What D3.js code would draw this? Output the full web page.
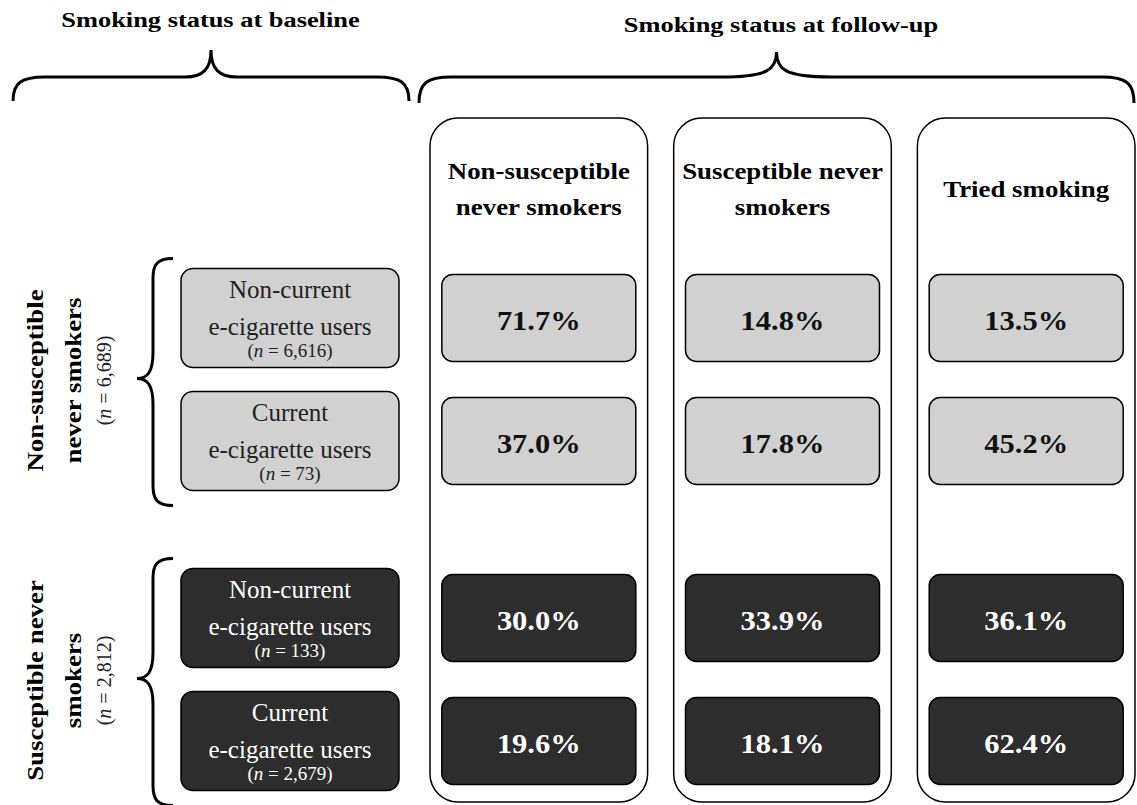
<!DOCTYPE html>
<html>
<head>
<meta charset="utf-8">
<script src="https://cdn.jsdelivr.net/npm/d3@7"></script>
<style>
	body { margin: 0; background: #fff; }
	svg { display: block; font-family: "Liberation Serif", "Times New Roman", serif; }
</style>
</head>
<body>
<div id="chart"></div>
<script>
'use strict';

// data
var followUp = ['Non-susceptible never smokers', 'Susceptible never smokers', 'Tried smoking'];
var followUpLines = [['Non-susceptible', 'never smokers'], ['Susceptible never', 'smokers'], ['Tried smoking']];
var groups = ['Non-susceptible never smokers', 'Susceptible never smokers'];
var groupLines = [['Non-susceptible', 'never smokers'], ['Susceptible never', 'smokers']];
var groupN = ['6,689', '2,812'];
var useStatus = ['Non-current', 'Current'];
var rowN = [['6,616', '73'], ['133', '2,679']];
var pct = [
	[[71.7, 14.8, 13.5], [37.0, 17.8, 45.2]],
	[[30.0, 33.9, 36.1], [19.6, 18.1, 62.4]]
];

var W = 1137, H = 805;
var svg = d3.select('#chart').append('svg')
	.attr('width', W)
	.attr('height', H);

// scales
var x = d3.scaleBand().domain(followUp).range([430, 1135]).paddingInner(0.107);
var yGroup = d3.scaleBand().domain(groups).range([256.5, 856.5]);
var yRow = d3.scaleBand().domain(useStatus).range([0, 246]);

var rowCenter = function(g, r){
	return yGroup(groups[g]) + yRow(useStatus[r]) + yRow.bandwidth() / 2;
};

var fills = ['#d1d1d1', '#2d2d2d'];
var textFill = ['#111', '#fff'];

// bold face in the original is wider than Liberation Serif bold
var stretched = function(parent, cx, cy, sx, size, bold){
	return parent.append('g')
		.attr('transform', 'translate(' + cx + ',' + cy + ') scale(' + sx + ',1)')
		.append('text')
		.attr('text-anchor', 'middle')
		.style('font-weight', bold ? 'bold' : 'normal')
		.style('font-size', size + 'px');
};

// horizontal brace opening downward
var hBrace = function(x1, x2, yt, yb, tw){
	var xm = (x1 + x2) / 2, ym = 77, r = 32;
	return 'M' + x1 + ',' + yb +
		'C' + x1 + ',' + (ym + 6) + ' ' + (x1 + 8) + ',' + ym + ' ' + (x1 + r) + ',' + ym +
		'L' + (xm - tw) + ',' + ym +
		'C' + (xm - 8) + ',' + ym + ' ' + xm + ',' + (ym - 8) + ' ' + xm + ',' + yt +
		'C' + xm + ',' + (ym - 8) + ' ' + (xm + 8) + ',' + ym + ' ' + (xm + tw) + ',' + ym +
		'L' + (x2 - r) + ',' + ym +
		'C' + (x2 - 8) + ',' + ym + ' ' + x2 + ',' + (ym + 6) + ' ' + x2 + ',' + yb;
};

// vertical brace opening right
var vBrace = function(y1, y2, ym, xt, xe){
	var xm = 153, r = 20, tw = 26;
	return 'M' + xe + ',' + y1 +
		'C' + (xm + 4) + ',' + y1 + ' ' + xm + ',' + (y1 + 6) + ' ' + xm + ',' + (y1 + r) +
		'L' + xm + ',' + (ym - tw) +
		'C' + xm + ',' + (ym - 6) + ' ' + (xm - 6) + ',' + ym + ' ' + xt + ',' + ym +
		'C' + (xm - 6) + ',' + ym + ' ' + xm + ',' + (ym + 6) + ' ' + xm + ',' + (ym + tw) +
		'L' + xm + ',' + (y2 - r) +
		'C' + xm + ',' + (y2 - 6) + ' ' + (xm + 4) + ',' + y2 + ' ' + xe + ',' + y2;
};

// top titles
stretched(svg, 210.5, 27, 1.2, 22, true).text('Smoking status at baseline');
stretched(svg, 781, 32, 1.2, 22, true).text('Smoking status at follow-up');

// top braces
svg.append('path')
	.attr('d', hBrace(13, 409, 50, 101, 26))
	.attr('fill', 'none').attr('stroke', '#000').attr('stroke-width', 3);
svg.append('path')
	.attr('d', hBrace(419, 1134, 52, 103, 55))
	.attr('fill', 'none').attr('stroke', '#000').attr('stroke-width', 3);

// follow-up columns
var cols = svg.selectAll('g.col')
	.data(followUp)
	.enter()
	.append('g')
	.attr('class', 'col');

cols.append('rect')
	.attr('x', function(d){ return x(d); })
	.attr('y', 118)
	.attr('width', x.bandwidth())
	.attr('height', 684)
	.attr('rx', 28)
	.attr('fill', 'none')
	.attr('stroke', '#000')
	.attr('stroke-width', 1.5);

cols.each(function(d, i){
	var lines = followUpLines[i];
	var el = d3.select(this);
	lines.forEach(function(l, j){
		stretched(el, x(d) + x.bandwidth() / 2, 197 + (j - (lines.length - 1) / 2) * 36, 1.12, 24, true)
			.text(l);
	});
});

// percent cells
var cells = [];
pct.forEach(function(grp, g){
	grp.forEach(function(row, r){
		row.forEach(function(v, c){
			cells.push({g: g, r: r, c: c, v: v});
		});
	});
});

var cellW = 194, cellH = 87;
var cell = svg.selectAll('g.cell')
	.data(cells)
	.enter()
	.append('g')
	.attr('class', 'cell');

cell.append('rect')
	.attr('x', function(d){ return x(followUp[d.c]) + (x.bandwidth() - cellW) / 2; })
	.attr('y', function(d){ return rowCenter(d.g, d.r) - cellH / 2; })
	.attr('width', cellW)
	.attr('height', cellH)
	.attr('rx', 11)
	.attr('fill', function(d){ return fills[d.g]; })
	.attr('stroke', '#000')
	.attr('stroke-width', 1.5);

cell.each(function(d){
	stretched(d3.select(this), x(followUp[d.c]) + x.bandwidth() / 2, rowCenter(d.g, d.r) + 11.5, 1.13, 27, true)
		.attr('fill', textFill[d.g])
		.text(d.v.toFixed(1) + '%');
});

// baseline boxes
var base = [];
groups.forEach(function(gName, g){
	useStatus.forEach(function(u, r){
		base.push({g: g, r: r, label: u, n: rowN[g][r]});
	});
});

var boxX = 181, boxW = 218, boxH = 99;
var bg = svg.selectAll('g.base')
	.data(base)
	.enter()
	.append('g')
	.attr('class', 'base');

bg.append('rect')
	.attr('x', boxX)
	.attr('y', function(d){ return rowCenter(d.g, d.r) - boxH / 2; })
	.attr('width', boxW)
	.attr('height', boxH)
	.attr('rx', 12)
	.attr('fill', function(d){ return fills[d.g]; })
	.attr('stroke', '#000')
	.attr('stroke-width', 1.5);

bg.each(function(d){
	var cy = rowCenter(d.g, d.r);
	var el = d3.select(this);
	var col = d.g === 1 ? '#fff' : '#222';
	el.append('text')
		.attr('x', boxX + boxW / 2).attr('y', cy - 20)
		.attr('text-anchor', 'middle')
		.style('font-size', '25px').attr('fill', col)
		.text(d.label);
	el.append('text')
		.attr('x', boxX + boxW / 2).attr('y', cy + 17)
		.attr('text-anchor', 'middle')
		.style('font-size', '25px').attr('fill', col)
		.text('e-cigarette users');
	var nt = el.append('text')
		.attr('x', boxX + boxW / 2).attr('y', cy + 39)
		.attr('text-anchor', 'middle')
		.style('font-size', '19px').attr('fill', col);
	nt.append('tspan').text('(');
	nt.append('tspan').style('font-style', 'italic').text('n');
	nt.append('tspan').text(' = ' + d.n + ')');
});

// baseline group braces and labels
groups.forEach(function(gName, g){
	var y1 = yGroup(gName) + 2;
	var y2 = y1 + 247;
	var ym = y1 + 120;
	svg.append('path')
		.attr('d', vBrace(y1, y2, ym, 137, 173))
		.attr('fill', 'none').attr('stroke', '#000').attr('stroke-width', 3);

	var lbl = svg.append('g')
		.attr('transform', 'translate(0,' + (ym + 2) + ') rotate(-90)');
	groupLines[g].forEach(function(l, j){
		lbl.append('g')
			.attr('transform', 'translate(0,' + (43 + j * 38) + ') scale(1.12,1)')
			.append('text')
			.attr('text-anchor', 'middle')
			.style('font-weight', 'bold').style('font-size', '24px')
			.text(l);
	});
	var nt = lbl.append('text')
		.attr('x', 0).attr('y', 111)
		.attr('text-anchor', 'middle')
		.style('font-size', '20px').attr('fill', '#222');
	nt.append('tspan').text('(');
	nt.append('tspan').style('font-style', 'italic').text('n');
	nt.append('tspan').text(' = ' + groupN[g] + ')');
});
</script>
</body>
</html>
